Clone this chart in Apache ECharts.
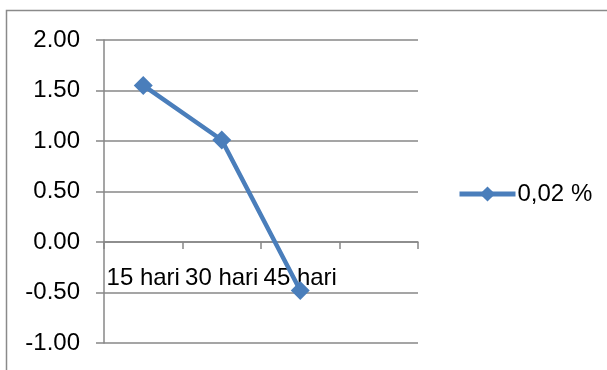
<!DOCTYPE html>
<html>
<head>
<meta charset="utf-8">
<script src="https://cdn.jsdelivr.net/npm/echarts@6/dist/echarts.min.js"></script>
<style>
  html, body { margin: 0; padding: 0; background: #ffffff; }
  #chart { width: 607px; height: 370px; }
</style>
</head>
<body>
<div id="chart"></div>
<script>
// Periods and measured values
const categories = ['15 hari', '30 hari', '45 hari', ''];
const seriesName = '0,02 %';
const values = [1.55, 1.01, -0.48, null];
const yTicks = { min: -1, max: 2, step: 0.5 };

const FONT = '"Liberation Sans", Arial, sans-serif';
const FONT_SIZE = 24;
const GRID_COLOR = '#878787';
const LINE_COLOR = '#4a7ebb';

// Plot box geometry; the category axis sits on the zero line
const GRID = { left: 104, right: 189, top: 40, bottom: 27 };
const plotHeight = 370 - GRID.top - GRID.bottom;
const zeroOffset = plotHeight * (0 - yTicks.min) / (yTicks.max - yTicks.min);

const chart = echarts.init(document.getElementById('chart'), null, { renderer: 'canvas' });

chart.setOption({
  backgroundColor: '#ffffff',
  animation: false,
  graphic: [{
    type: 'rect',
    shape: { x: 6.5, y: 10.5, width: 640, height: 400 },
    style: { fill: 'none', stroke: '#8a8a8a', lineWidth: 1.5 },
    silent: true,
    z: -1
  }],
  grid: Object.assign({ containLabel: false, outerBoundsMode: 'none' }, GRID),
  legend: {
    data: [seriesName],
    orient: 'vertical',
    left: 457,
    top: 182,
    padding: 0,
    itemWidth: 56,
    itemHeight: 19,
    itemGap: 0,
    lineStyle: { width: 5 },
    textStyle: { fontFamily: FONT, fontSize: FONT_SIZE, color: '#000000', padding: [0, 0, 0, -3] }
  },
  xAxis: {
    type: 'category',
    data: categories,
    boundaryGap: true,
    position: 'bottom',
    offset: -zeroOffset,
    axisLine: { onZero: false, lineStyle: { color: GRID_COLOR, width: 1.5 } },
    axisTick: { show: true, length: 7, lineStyle: { color: GRID_COLOR, width: 1.5 } },
    axisLabel: { fontFamily: FONT, fontSize: FONT_SIZE, color: '#000000', margin: 24, interval: 0 },
    splitLine: { show: false }
  },
  yAxis: {
    type: 'value',
    min: yTicks.min,
    max: yTicks.max,
    interval: yTicks.step,
    axisLine: { show: true, lineStyle: { color: GRID_COLOR, width: 1.5 } },
    axisTick: { show: true, length: 8, lineStyle: { color: GRID_COLOR, width: 1.5 } },
    axisLabel: {
      fontFamily: FONT, fontSize: FONT_SIZE, color: '#000000', margin: 24,
      formatter: v => v.toFixed(2)
    },
    splitLine: { show: true, lineStyle: { color: GRID_COLOR, width: 1.5 } }
  },
  series: [{
    name: seriesName,
    type: 'line',
    data: values,
    symbol: 'diamond',
    symbolSize: 19,
    showSymbol: true,
    lineStyle: { color: LINE_COLOR, width: 4.5 },
    itemStyle: { color: LINE_COLOR },
    z: 3
  }]
});
</script>
</body>
</html>
